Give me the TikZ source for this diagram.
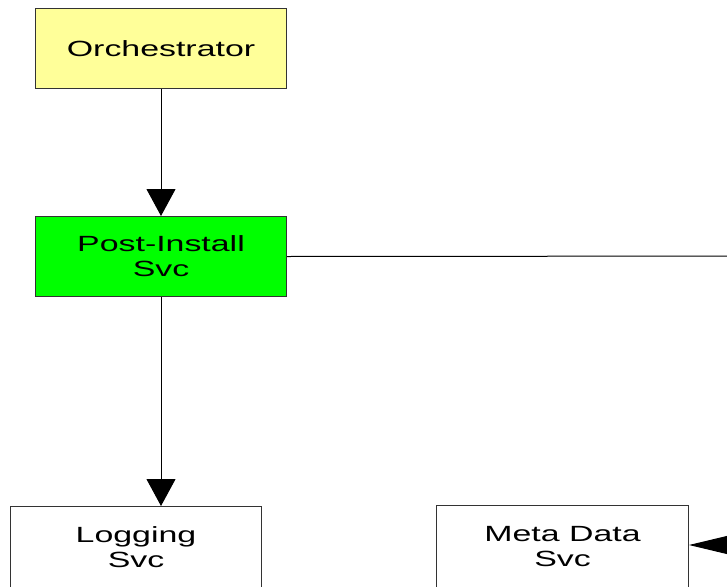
\documentclass[tikz,border=0pt]{standalone}
\usepackage{fontspec}
\setmainfont{Liberation Sans}[FakeStretch=1.54]
\usetikzlibrary{arrows.meta}
\definecolor{orchfill}{HTML}{FFFF99}
\definecolor{postfill}{HTML}{00FF00}
\definecolor{boxline}{HTML}{333333}
\begin{document}
\begin{tikzpicture}[x=1pt,y=-1pt,
  svcbox/.style={draw=boxline, line width=1pt, align=center,
    font=\fontsize{22}{25}\selectfont, minimum width=251pt,
    minimum height=80pt, inner sep=0pt, anchor=north west},
  conn/.style={draw=black, line width=1pt},
  downtip/.style={-{Triangle[length=27pt,width=29pt]}},
  sidetip/.style={-{Triangle[length=55pt,width=26pt]}}]
  \useasboundingbox (0,0) rectangle (727,586);
  \clip (0,0) rectangle (727,586);

  % service boxes
  \node[svcbox, fill=orchfill] (orch) at (35,8) {Orchestrator};
  \node[svcbox, fill=postfill] (post) at (35,216) {Post-Install\\Svc};
  \node[svcbox, fill=white, minimum height=82pt] (log) at (10,506) {Logging\\Svc};
  \node[svcbox, fill=white, minimum width=252pt, minimum height=82pt] (meta) at (436,505) {Meta Data\\Svc};

  % connectors
  \coordinate (offright) at (800,256);
  \coordinate (offmeta) at (800,545);
  \draw[conn, downtip] (orch.south) -- (orch.south |- post.north);
  \draw[conn, downtip] (post.south) -- (post.south |- log.north);
  \draw[conn] (post.east) -- (offright);
  \draw[conn, sidetip] (offmeta) -- (meta.east |- offmeta);
\end{tikzpicture}
\end{document}
